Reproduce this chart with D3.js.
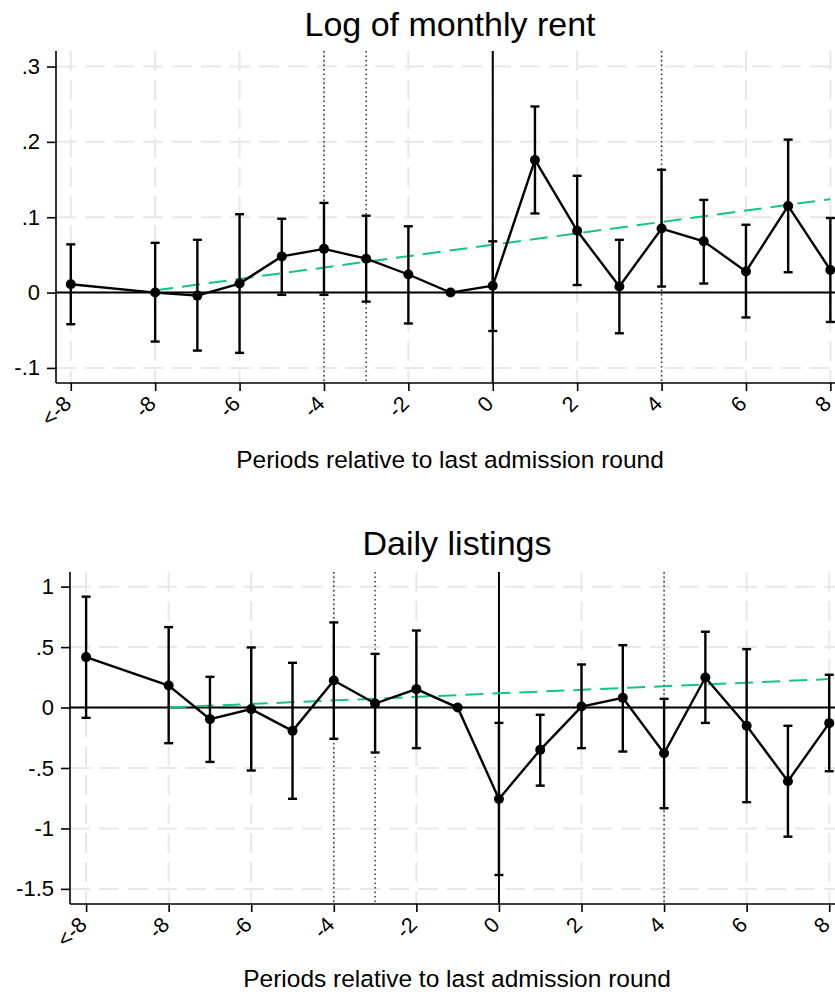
<!DOCTYPE html>
<meta charset="utf-8">
<head>
    <script type="text/javascript" src="https://d3js.org/d3.v7.min.js"></script>
    <style>
        body { margin: 0; background: #fff; }
        text { font-family: "Liberation Sans", Arial, sans-serif; fill: #000; }
    </style>
    <title></title>
</head>
<body>
<script>

    // periods; -10 is the pooled "<-8" bin
    var periods = [-10, -8, -7, -6, -5, -4, -3, -2, -1, 0, 1, 2, 3, 4, 5, 6, 7, 8];
    var xTicks = [-10, -8, -6, -4, -2, 0, 2, 4, 6, 8];
    var xTickLabels = ["<-8", "-8", "-6", "-4", "-2", "0", "2", "4", "6", "8"];
    var markerLines = [-4, -3, 4];

    // log of monthly rent
    var rentCoef = [0.011, 0.0, -0.004, 0.012, 0.048, 0.058, 0.045, 0.024, 0.0, 0.009, 0.176, 0.082, 0.008, 0.085, 0.068, 0.028, 0.115, 0.030];
    var rentLo = [-0.042, -0.065, -0.077, -0.080, -0.003, -0.003, -0.012, -0.041, null, -0.051, 0.105, 0.010, -0.054, 0.008, 0.012, -0.033, 0.027, -0.039];
    var rentHi = [0.064, 0.066, 0.070, 0.104, 0.098, 0.119, 0.102, 0.088, null, 0.068, 0.247, 0.155, 0.070, 0.163, 0.123, 0.090, 0.203, 0.099];
    var rentTrend = [[-8, 0.003], [8, 0.124]];
    var rentTicks = [-0.1, 0, 0.1, 0.2, 0.3];
    var rentTickLabels = ["-.1", "0", ".1", ".2", ".3"];

    // daily listings
    var listCoef = [0.417, 0.182, -0.096, -0.013, -0.193, 0.224, 0.033, 0.152, 0.0, -0.756, -0.350, 0.008, 0.080, -0.378, 0.248, -0.151, -0.609, -0.129];
    var listLo = [-0.085, -0.295, -0.450, -0.521, -0.755, -0.259, -0.372, -0.336, null, -1.385, -0.646, -0.336, -0.364, -0.833, -0.127, -0.783, -1.068, -0.527];
    var listHi = [0.917, 0.665, 0.254, 0.497, 0.370, 0.704, 0.444, 0.637, null, -0.127, -0.060, 0.356, 0.516, 0.072, 0.627, 0.483, -0.151, 0.271];
    var listTrend = [[-8, 0.0], [8, 0.235]];
    var listTicks = [-1.5, -1, -0.5, 0, 0.5, 1];
    var listTickLabels = ["-1.5", "-1", "-.5", "0", ".5", "1"];

    var width = 835, height = 992;
    var green = "#12c586";

    var svg = d3.select("body").append("svg")
        .attr("width", width)
        .attr("height", height);

    function panel(opt) {
        var x = d3.scaleLinear().domain(opt.xDomain).range([opt.left, width]);
        var y = d3.scaleLinear().domain(opt.yDomain).range([opt.bottom, opt.top]);
        var g = svg.append("g");

        // grid
        g.selectAll(".hgrid").data(opt.yTicks).enter().append("line")
            .attr("x1", opt.left).attr("x2", width)
            .attr("y1", d => y(d)).attr("y2", d => y(d))
            .attr("stroke", "#e8e8e8").attr("stroke-width", 2)
            .attr("stroke-dasharray", "20,9");
        g.selectAll(".vgrid").data(xTicks).enter().append("line")
            .attr("x1", d => x(d)).attr("x2", d => x(d))
            .attr("y1", opt.top).attr("y2", opt.bottom)
            .attr("stroke", "#e8e8e8").attr("stroke-width", 2)
            .attr("stroke-dasharray", "20,9");

        // dotted reference lines
        g.selectAll(".dot-line").data(markerLines).enter().append("line")
            .attr("x1", d => x(d)).attr("x2", d => x(d))
            .attr("y1", opt.top).attr("y2", opt.bottom)
            .attr("stroke", "#333").attr("stroke-width", 1.5)
            .attr("stroke-dasharray", "1.5,3");

        // zero lines
        g.append("line")
            .attr("x1", opt.left).attr("x2", width)
            .attr("y1", y(0)).attr("y2", y(0))
            .attr("stroke", "#000").attr("stroke-width", 2);
        g.append("line")
            .attr("x1", x(0)).attr("x2", x(0))
            .attr("y1", opt.top).attr("y2", opt.bottom)
            .attr("stroke", "#000").attr("stroke-width", 2);

        // trend
        g.append("path")
            .datum(opt.trend)
            .attr("d", d3.line().x(d => x(d[0])).y(d => y(d[1])))
            .attr("fill", "none").attr("stroke", green).attr("stroke-width", 2)
            .attr("stroke-dasharray", "18,9");

        var rows = periods.map((p, i) => ({p: p, c: opt.coef[i], lo: opt.lo[i], hi: opt.hi[i]}));
        var ci = rows.filter(d => d.lo !== null);

        // error bars
        g.selectAll(".ci").data(ci).enter().append("line")
            .attr("x1", d => x(d.p)).attr("x2", d => x(d.p))
            .attr("y1", d => y(d.lo)).attr("y2", d => y(d.hi))
            .attr("stroke", "#000").attr("stroke-width", 2.4);
        ["lo", "hi"].forEach(function (k) {
            g.selectAll(".cap-" + k).data(ci).enter().append("line")
                .attr("x1", d => x(d.p) - 4.5).attr("x2", d => x(d.p) + 4.5)
                .attr("y1", d => y(d[k])).attr("y2", d => y(d[k]))
                .attr("stroke", "#000").attr("stroke-width", 2.4);
        });

        // connecting line + markers
        g.append("path")
            .datum(rows)
            .attr("d", d3.line().x(d => x(d.p)).y(d => y(d.c)))
            .attr("fill", "none").attr("stroke", "#000").attr("stroke-width", 2.4);
        g.selectAll(".pt").data(rows).enter().append("circle")
            .attr("cx", d => x(d.p)).attr("cy", d => y(d.c)).attr("r", 5)
            .attr("fill", "#000");

        // axes
        var yAxis = d3.axisLeft(y).tickValues(opt.yTicks)
            .tickFormat((d, i) => opt.yTickLabels[i]).tickSize(9).tickPadding(7);
        var ya = g.append("g").attr("transform", "translate(" + opt.left + ",0)").call(yAxis);
        ya.select(".domain").attr("d", "M0," + opt.top + "V" + opt.bottom)
            .attr("stroke", "#000").attr("stroke-width", 1.6);
        ya.selectAll(".tick line").attr("stroke", "#000").attr("stroke-width", 1.6);
        ya.selectAll(".tick text").attr("font-size", "22px")
            .style("font-family", "'Liberation Sans', Arial, sans-serif");

        var xAxis = d3.axisBottom(x).tickValues(xTicks).tickFormat("").tickSize(8);
        var xa = g.append("g").attr("transform", "translate(0," + opt.bottom + ")").call(xAxis);
        xa.select(".domain").attr("d", "M" + opt.left + ",0H" + width)
            .attr("stroke", "#000").attr("stroke-width", 1.6);
        xa.selectAll(".tick line").attr("stroke", "#000").attr("stroke-width", 1.6);

        g.selectAll(".xlab").data(xTicks).enter().append("text")
            .attr("transform", d => "translate(" + (x(d) + 2) + "," + (opt.bottom + 22) + ") rotate(-45)")
            .attr("text-anchor", "end")
            .attr("font-size", "21.5px")
            .text((d, i) => xTickLabels[i]);

        // titles
        g.append("text")
            .attr("x", opt.titleX).attr("y", opt.titleY)
            .attr("text-anchor", "middle").attr("font-size", "34px")
            .text(opt.title);
        g.append("text")
            .attr("x", opt.titleX).attr("y", opt.xTitleY)
            .attr("text-anchor", "middle").attr("font-size", "24.5px")
            .text("Periods relative to last admission round");
    }

    panel({
        title: "Log of monthly rent", titleX: 450, titleY: 36, xTitleY: 468,
        left: 56, top: 51, bottom: 383,
        xDomain: [-10.35, 8.11], yDomain: [-0.12, 0.3206],
        yTicks: rentTicks, yTickLabels: rentTickLabels,
        coef: rentCoef, lo: rentLo, hi: rentHi, trend: rentTrend
    });

    panel({
        title: "Daily listings", titleX: 457, titleY: 555, xTitleY: 987,
        left: 70, top: 572, bottom: 904,
        xDomain: [-10.39, 8.14], yDomain: [-1.625, 1.121],
        yTicks: listTicks, yTickLabels: listTickLabels,
        coef: listCoef, lo: listLo, hi: listHi, trend: listTrend
    });

</script>
</body>
</html>
